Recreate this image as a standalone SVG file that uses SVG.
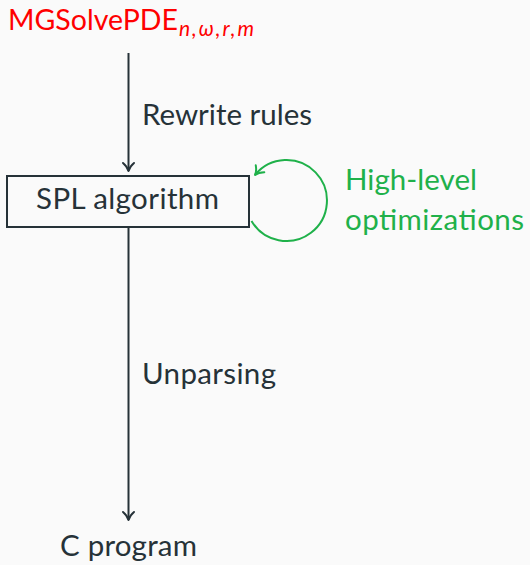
<svg xmlns="http://www.w3.org/2000/svg" width="530" height="565" viewBox="0 0 530 565">
  <style>
    .lbl { font-family: "Lato", "Liberation Sans", sans-serif; font-size: 29.5px; fill: #263238; }
    .title { font-family: "Lato", "Liberation Sans", sans-serif; font-size: 28.5px; fill: #ff0000; }
    .sub { font-family: "Lato", "Liberation Sans", sans-serif; font-style: italic; font-size: 21px; fill: #ff0000; }
    .opt { font-family: "Lato", "Liberation Sans", sans-serif; font-size: 29.5px; fill: #1fb14a; }
    .edge { stroke: #263238; stroke-width: 2; fill: none; }
    .loop { stroke: #1fb14a; stroke-width: 2; fill: none; }
    .box { fill: none; stroke: #263238; stroke-width: 2; }
  </style>
  <defs>
    <marker id="tipDark" markerUnits="userSpaceOnUse" markerWidth="16" markerHeight="16" viewBox="-10 -8 12 16" refX="0" refY="0" orient="auto">
      <path d="M-8,-5.5 C-5,-2 -2,-0.5 0,0 C-2,0.5 -5,2 -8,5.5" fill="none" stroke="#263238" stroke-width="2" stroke-linecap="round" stroke-linejoin="round"/>
    </marker>
    <marker id="tipGreen" markerUnits="userSpaceOnUse" markerWidth="16" markerHeight="16" viewBox="-10 -8 12 16" refX="0" refY="0" orient="auto">
      <path d="M-8,-5.5 C-5,-2 -2,-0.5 0,0 C-2,0.5 -5,2 -8,5.5" fill="none" stroke="#1fb14a" stroke-width="2" stroke-linecap="round" stroke-linejoin="round"/>
    </marker>
  </defs>
  <rect width="530" height="565" fill="#fafafa"/>

  <g id="connectors">
    <line class="edge" x1="128.5" y1="53" x2="128.5" y2="171" marker-end="url(#tipDark)"/>
    <line class="edge" x1="128.5" y1="227" x2="128.5" y2="520" marker-end="url(#tipDark)"/>
    <path class="loop" d="M251.5,221 A40.5,40.5 0 1 0 255,175" marker-end="url(#tipGreen)"/>
    <text class="lbl" x="142" y="125" textLength="170">Rewrite rules</text>
    <text class="lbl" x="142" y="384" textLength="134">Unparsing</text>
    <text class="opt" x="345" y="190" textLength="132">High-level</text>
    <text class="opt" x="345" y="230" textLength="179">optimizations</text>
  </g>

  <g id="spec">
    <text class="title" x="8" y="30" textLength="170">MGSolvePDE</text>
    <text class="sub" x="179" y="36" textLength="75">n,ω,r,m</text>
  </g>

  <g id="spl">
    <rect class="box" x="7" y="176" width="242" height="51"/>
    <text class="lbl" x="36" y="209" textLength="183">SPL algorithm</text>
  </g>

  <g id="cprog">
    <text class="lbl" x="60" y="556" textLength="137">C program</text>
  </g>
</svg>
